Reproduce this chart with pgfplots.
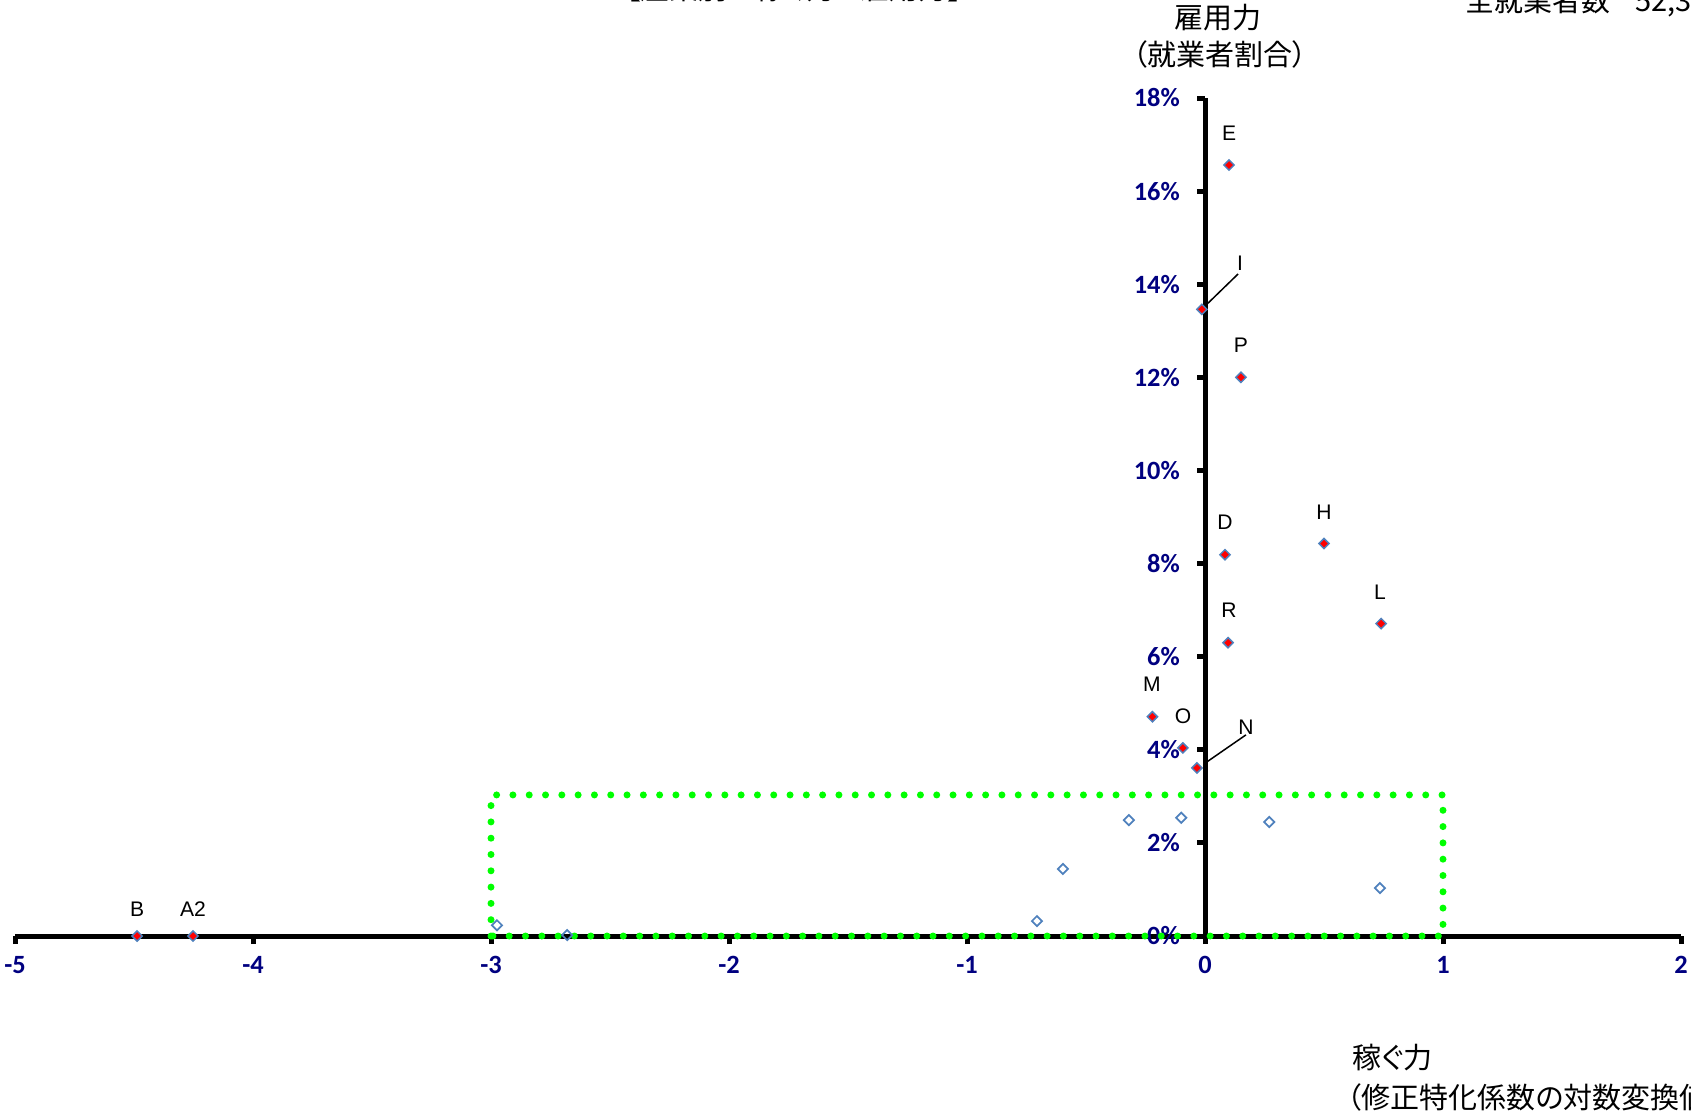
\documentclass[border=0pt]{standalone}
\usepackage{fontspec}
\setmainfont{Liberation Sans}
\newfontfamily\jp{Noto Sans CJK JP}[RawFeature=+palt]
\newfontfamily\tickfont{Carlito}
\usepackage{pgfplots}
\pgfplotsset{compat=1.18}

\definecolor{tickblue}{RGB}{0,0,128}
\definecolor{xlblue}{RGB}{79,129,189}
\definecolor{dotgreen}{RGB}{0,255,0}

\begin{document}
\begin{tikzpicture}
% page = 1691 x 1113 px, 1 px = 0.2mm
\useasboundingbox (0,0) rectangle (338.2mm,-222.6mm);
\clip (0,0) rectangle (338.2mm,-222.6mm);

\begin{axis}[
  at={(3mm,-187.2mm)}, anchor=south west,
  scale only axis, width=333.2mm, height=167.6mm,
  xmin=-5, xmax=2, ymin=0, ymax=18,
  axis lines=middle,
  axis line style={line width=1mm, -},
  xtick={-5,-4,...,2}, ytick={0,2,...,18},
  xticklabels={-5,-4,-3,-2,-1,0,1,2},
  yticklabels={0\%,2\%,4\%,6\%,8\%,10\%,12\%,14\%,16\%,18\%},
  hide obscured x ticks=false, hide obscured y ticks=false,
  tick align=outside, major tick length=1.6mm,
  tick style={line width=1mm, black},
  ticklabel style={font=\tickfont\bfseries\fontsize{15}{17}\selectfont, text=tickblue},
  xticklabel style={yshift=-1.2mm},
  yticklabel style={xshift=-2.2mm},
  clip=false,
]
% filled markers: labelled industries
\addplot[only marks, mark=square*, mark size=0.72mm,
  mark options={rotate=45, fill=red, draw=xlblue, line width=0.3mm}]
  coordinates {
  (0.101,16.56) (-0.013,13.46) (0.151,12.00) (0.084,8.19) (0.500,8.43)
  (0.740,6.71) (0.097,6.30) (-0.221,4.71) (-0.093,4.04) (-0.034,3.61)
  (-4.487,0) (-4.252,0)
  };
% open markers
\addplot[only marks, mark=square, mark size=0.72mm,
  mark options={rotate=45, fill=white, draw=xlblue, line width=0.35mm}]
  coordinates {
  (-2.975,0.23) (-2.68,0.02) (-0.706,0.32) (-0.597,1.44) (-0.320,2.49)
  (-0.100,2.54) (0.270,2.45) (0.735,1.03)
  };
% dotted area
\draw[dotgreen, line width=1.4mm, line cap=round, dash pattern=on 0pt off 3.26mm]
  (axis cs:-3,0) rectangle (axis cs:1,3.03);

\begin{scope}[font=\fontsize{12}{14}\selectfont, inner sep=0pt]
\node at (axis cs:0.101,17.25) {E};
\node at (axis cs:0.147,14.45) {I};
\node at (axis cs:0.151,12.69) {P};
\node at (axis cs:0.084,8.88) {D};
\node at (axis cs:0.500,9.10) {H};
\node at (axis cs:0.735,7.38) {L};
\node at (axis cs:0.101,6.99) {R};
\node at (axis cs:-0.223,5.40) {M};
\node at (axis cs:-0.092,4.73) {O};
\node at (axis cs:0.172,4.49) {N};
\node at (axis cs:-4.487,0.58) {B};
\node at (axis cs:-4.252,0.58) {A2};
\end{scope}
\draw[line width=0.3mm] (axis cs:0.139,14.22) -- (axis cs:0.008,13.57);
\draw[line width=0.3mm] (axis cs:0.172,4.32) -- (axis cs:0.008,3.74);
\end{axis}

\begin{scope}[x=0.2mm, y=-0.2mm, font=\jp\fontsize{16.5}{19}\selectfont, inner sep=0pt]
\node at (794,-12) {【産業別の稼ぐ力と雇用力】};
\node[anchor=west] at (1465,2) {全就業者数\hspace{5mm}52,3};
\node at (1218,18) {雇用力};
\node at (1220,54) {（就業者割合）};
\node[anchor=west] at (1352,1058) {稼ぐ力};
\node[anchor=west] at (1347,1097) {（修正特化係数の対数変換値）};
\end{scope}
\end{tikzpicture}
\end{document}
